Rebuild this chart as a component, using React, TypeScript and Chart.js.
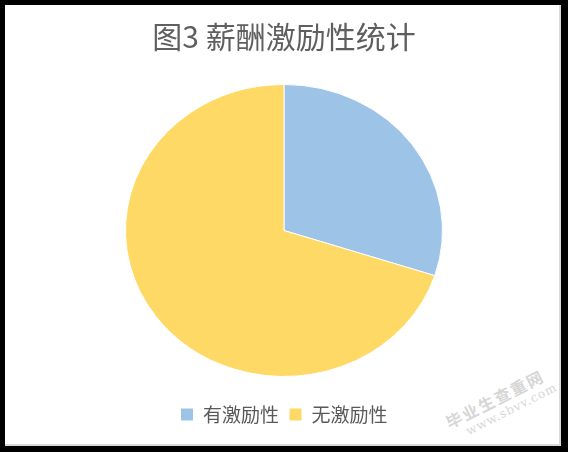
import React, { useEffect, useRef } from "react";
import { Chart, registerables } from "chart.js";

Chart.register(...registerables);

const titleText = "图3 薪酬激励性统计";
const categories = ["有激励性", "无激励性"];
const values = [30, 70];
const colors = ["#9DC3E6", "#FFD966"];
const watermarkName = "毕业生查重网";
const watermarkUrl = "www.sbvv.com";

const Y_SCALE = 146.2 / 158.7;

const ellipsePlugin = {
  id: "ellipse",
  beforeDatasetsDraw(chart: any) {
    const arc = chart.getDatasetMeta(0).data[0];
    const ctx = chart.ctx;
    ctx.save();
    ctx.translate(arc.x, arc.y);
    ctx.scale(1, Y_SCALE);
    ctx.translate(-arc.x, -arc.y);
  },
  afterDatasetsDraw(chart: any) {
    chart.ctx.restore();
  },
};

export default function App() {
  const ref = useRef<HTMLCanvasElement>(null);

  useEffect(() => {
    const font = "'Noto Sans CJK SC', 'Noto Sans', sans-serif";
    const chart = new Chart(ref.current!, {
      type: "pie",
      data: {
        labels: categories,
        datasets: [
          {
            data: values,
            backgroundColor: colors,
            borderColor: "#ffffff",
            borderWidth: 1,
          },
        ],
      },
      options: {
        responsive: false,
        animation: false,
        devicePixelRatio: 1,
        layout: { padding: { left: 125, right: 125, top: 0, bottom: 18 } },
        plugins: {
          title: {
            display: true,
            text: titleText,
            color: "#5f5f5f",
            font: { family: font, size: 30, weight: "normal" as any, lineHeight: 1.2 },
            padding: { top: 19, bottom: 11 },
          },
          legend: {
            display: true,
            position: "bottom",
            labels: {
              color: "#595959",
              boxWidth: 13,
              boxHeight: 13,
              padding: 10,
              font: { family: font, size: 19 },
            },
          },
          tooltip: { enabled: false },
        },
      },
      plugins: [ellipsePlugin],
    });
    return () => chart.destroy();
  }, []);

  return (
    <div style={{ position: "fixed", left: 0, top: 0, width: 568, height: 452, background: "#000" }}>
      <div
        style={{
          position: "absolute",
          left: 5,
          top: 5,
          width: 554,
          height: 439,
          background: "#fff",
          borderRight: "2px solid #d9d9d9",
          borderBottom: "2px solid #d9d9d9",
        }}
      />
      <div
        style={{
          position: "absolute",
          left: 443,
          top: 416,
          transform: "rotate(-27deg)",
          transformOrigin: "left top",
          color: "#d6d6d6",
          fontFamily: "'Noto Sans CJK SC', sans-serif",
          fontWeight: "bold",
          fontSize: 16,
          letterSpacing: 2,
          lineHeight: "17px",
          whiteSpace: "nowrap",
        }}
      >
        <div>{watermarkName}</div>
        <div style={{ fontFamily: "'DejaVu Serif', serif", fontSize: 12, fontWeight: "normal", letterSpacing: 1, marginLeft: 14 }}>
          {watermarkUrl}
        </div>
      </div>
      <canvas ref={ref} width={568} height={452} style={{ position: "absolute", left: 0, top: 0 }} />
    </div>
  );
}
